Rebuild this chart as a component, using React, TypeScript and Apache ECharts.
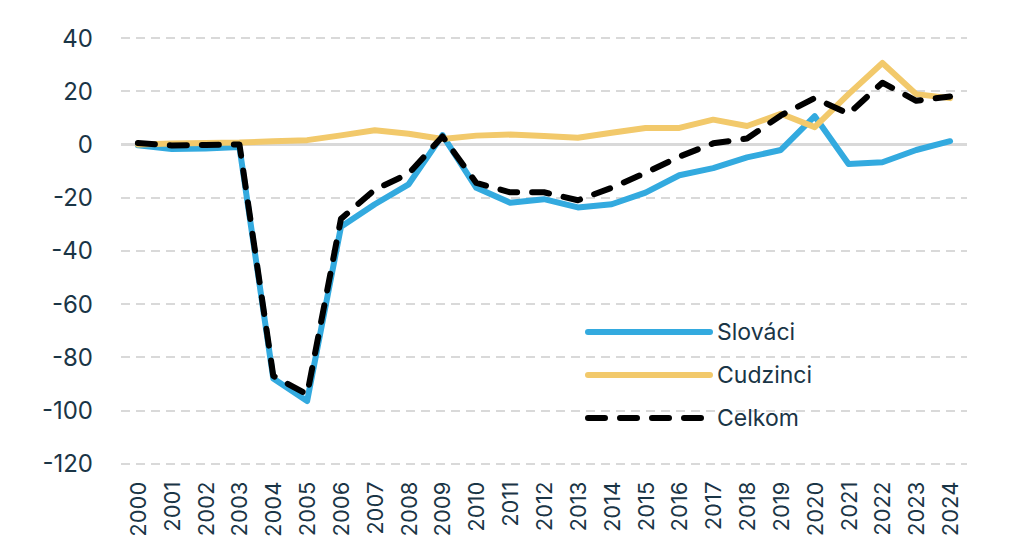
import React, { useRef, useEffect } from 'react';
import * as echarts from 'echarts';

const years = [
  '2000', '2001', '2002', '2003', '2004', '2005', '2006', '2007', '2008', '2009',
  '2010', '2011', '2012', '2013', '2014', '2015', '2016', '2017', '2018', '2019',
  '2020', '2021', '2022', '2023', '2024'
];

const slovaci = [
  -0.3, -1.7, -1.5, -1, -88, -96.5, -31, -22.5, -15, 3.5,
  -16.3, -21.9, -20.6, -23.7, -22.5, -18.1, -11.6, -8.9, -4.9, -2.1,
  10.6, -7.4, -6.7, -2.1, 1.2
];

const cudzinci = [
  0, 0.3, 0.5, 0.7, 1.2, 1.6, 3.4, 5.3, 4, 2,
  3.3, 3.7, 3.2, 2.5, 4.4, 6.2, 6.2, 9.3, 6.9, 11.5,
  6.5, 18.9, 30.6, 18.9, 17.4
];

const celkom = [
  0.5, -0.4, -0.2, 0, -87, -94, -28, -17, -11, 3,
  -14.5, -18, -18, -21, -16.3, -10.7, -4.6, 0.4, 2.2, 10.9,
  17.4, 11.5, 23.2, 16.4, 18
];

const textColor = '#1a3546';
const fontFamily = 'Inter, "Noto Sans", sans-serif';

export default function App() {
  const chartRef = useRef<HTMLDivElement>(null);

  useEffect(() => {
    if (!chartRef.current) return;
    const chart = echarts.init(chartRef.current, undefined, { renderer: 'svg' });

    // the div sits 8px in from the page corner (body margin)
    chart.setOption({
      animation: false,
      textStyle: { fontFamily },
      grid: { left: 113, right: 42, top: 30, bottom: 71 },
      legend: {
        orient: 'vertical',
        left: 572,
        top: 307,
        itemWidth: 122,
        itemHeight: 14,
        itemGap: 19,
        itemStyle: { opacity: 0 },
        lineStyle: { width: 6, cap: 'round', opacity: 1 },
        textStyle: {
          color: textColor,
          fontSize: 23,
          fontFamily,
          lineHeight: 24,
          padding: [0, 0, 0, 2]
        },
        data: ['Slováci', 'Cudzinci', 'Celkom']
      },
      xAxis: {
        type: 'category',
        data: years,
        boundaryGap: true,
        axisLine: { show: false },
        axisTick: { show: false },
        axisLabel: {
          rotate: 90,
          interval: 0,
          margin: 18,
          color: textColor,
          fontSize: 22,
          fontFamily
        }
      },
      yAxis: {
        type: 'value',
        min: -120,
        max: 40,
        interval: 20,
        axisLine: { show: false },
        axisTick: { show: false },
        axisLabel: {
          margin: 28,
          color: textColor,
          fontSize: 24,
          fontFamily
        },
        splitLine: {
          lineStyle: { color: '#d9d9d9', width: 2, type: [9, 6] }
        }
      },
      series: [
        {
          name: 'Slováci',
          type: 'line',
          data: slovaci,
          symbol: 'none',
          z: 3,
          lineStyle: { color: '#33aadf', width: 6, cap: 'round', join: 'round' },
          itemStyle: { color: '#33aadf' },
          markLine: {
            silent: true,
            symbol: 'none',
            label: { show: false },
            lineStyle: { color: '#d9d9d9', width: 3, type: 'solid' },
            data: [{ yAxis: 0 }],
            z: 1
          }
        },
        {
          name: 'Cudzinci',
          type: 'line',
          data: cudzinci,
          symbol: 'none',
          z: 4,
          lineStyle: { color: '#f2c96b', width: 6, cap: 'round', join: 'round' },
          itemStyle: { color: '#f2c96b' }
        },
        {
          name: 'Celkom',
          type: 'line',
          data: celkom,
          symbol: 'none',
          z: 5,
          lineStyle: { color: '#000000', width: 6, type: [17, 15], cap: 'round', join: 'round' },
          itemStyle: { color: '#000000' }
        }
      ]
    });

    return () => {
      chart.dispose();
    };
  }, []);

  return <div ref={chartRef} style={{ width: 1001, height: 532 }} />;
}
